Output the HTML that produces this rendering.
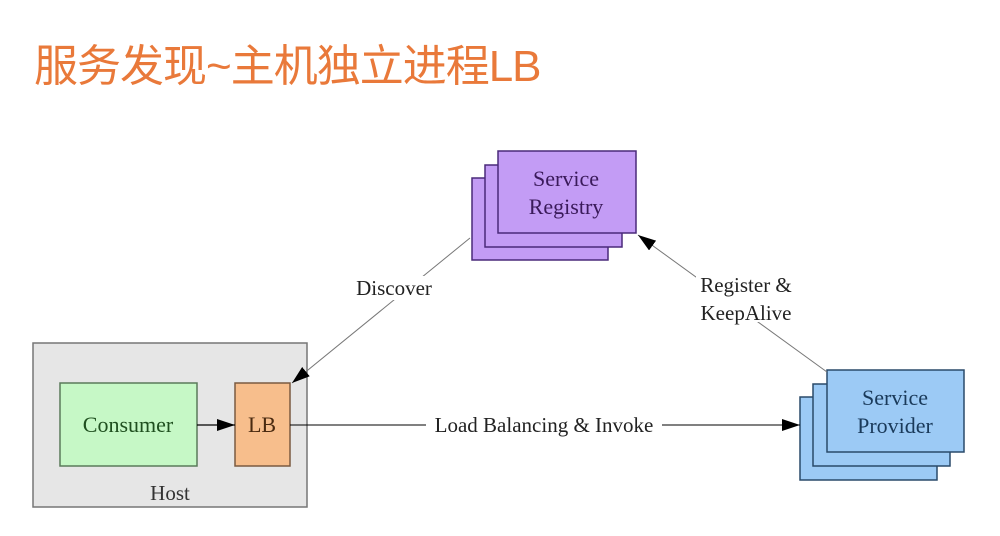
<!DOCTYPE html>
<html><head><meta charset="utf-8"><style>
body{margin:0;width:1000px;height:536px;background:#fff;overflow:hidden;position:relative;font-family:"Liberation Serif",serif}
.t{position:absolute;left:34px;top:30px;font-family:"Liberation Sans","Noto Sans CJK SC",sans-serif;font-size:44px;color:#e9793a;white-space:nowrap;letter-spacing:-1px}
</style></head><body>
<div class="t">服务发现~主机独立进程LB</div>
<svg width="1000" height="536" style="position:absolute;left:0;top:0" font-family="Liberation Serif, serif">
<defs><marker id="b" markerWidth="18" markerHeight="12" refX="18" refY="6" orient="auto" markerUnits="userSpaceOnUse"><path d="M0,0 L18,6 L0,12 Z" fill="#000"/></marker></defs>
<rect x="33" y="343" width="274" height="164" fill="#e6e6e6" stroke="#777" stroke-width="1.5"/>
<rect x="60" y="383" width="137" height="83" fill="#c6f8c6" stroke="#5a7a5a" stroke-width="1.5"/>
<text x="128" y="432" text-anchor="middle" font-size="22" fill="#1f4f1f">Consumer</text>
<rect x="235" y="383" width="55" height="83" fill="#f7be8c" stroke="#7a5a40" stroke-width="1.5"/>
<text x="262" y="432" text-anchor="middle" font-size="22" fill="#4a2a10">LB</text>
<text x="170" y="500" text-anchor="middle" font-size="21" fill="#333">Host</text>
<g fill="#c39cf5" stroke="#4a2a7a" stroke-width="1.5">
<rect x="472" y="178" width="136" height="82"/><rect x="485" y="165" width="137" height="82"/><rect x="498" y="151" width="138" height="82"/></g>
<text x="566" y="186" text-anchor="middle" font-size="22" fill="#3a1a5a">Service</text>
<text x="566" y="214" text-anchor="middle" font-size="22" fill="#3a1a5a">Registry</text>
<g fill="#9ccaf5" stroke="#2a4a6a" stroke-width="1.5">
<rect x="800" y="397" width="137" height="83"/><rect x="813" y="384" width="137" height="82"/><rect x="827" y="370" width="137" height="82"/></g>
<text x="895" y="405" text-anchor="middle" font-size="22" fill="#1a3a5a">Service</text>
<text x="895" y="433" text-anchor="middle" font-size="22" fill="#1a3a5a">Provider</text>
<line x1="197" y1="425" x2="235" y2="425" stroke="#000" stroke-width="1.2" marker-end="url(#b)"/>
<line x1="290" y1="425" x2="800" y2="425" stroke="#000" stroke-width="1" marker-end="url(#b)"/>
<rect x="426" y="412" width="236" height="24" fill="#fff"/>
<text x="544" y="432" text-anchor="middle" font-size="21" fill="#222">Load Balancing &amp; Invoke</text>
<line x1="470" y1="238" x2="292" y2="383" stroke="#777" stroke-width="1" marker-end="url(#b)"/>
<rect x="352" y="276" width="86" height="24" fill="#fff"/>
<text x="394" y="295" text-anchor="middle" font-size="21" fill="#222">Discover</text>
<line x1="827" y1="372" x2="638" y2="235" stroke="#777" stroke-width="1" marker-end="url(#b)"/>
<rect x="696" y="272" width="100" height="50" fill="#fff"/>
<text x="746" y="292" text-anchor="middle" font-size="21" fill="#222">Register &amp;</text>
<text x="746" y="320" text-anchor="middle" font-size="21" fill="#222">KeepAlive</text>
</svg>
</body></html>
